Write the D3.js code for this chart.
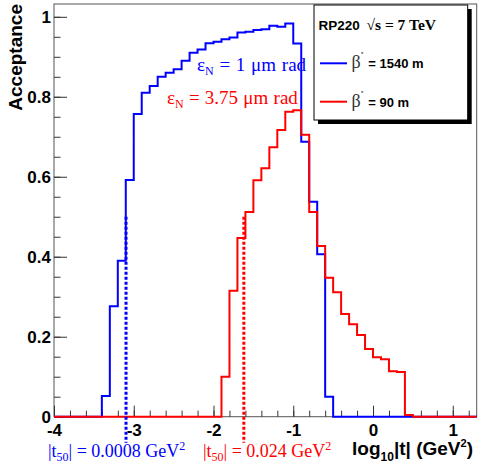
<!DOCTYPE html>
<html>
<head>
<meta charset="utf-8">
<script src="https://cdn.jsdelivr.net/npm/d3@7"></script>
<style>
  body { margin: 0; background: #fff; }
  .tick text { font-family: "Liberation Sans", Arial, sans-serif; font-weight: bold; font-size: 17px; fill: #000; }
  .tick line { stroke: #333; }
</style>
</head>
<body>
<div id="chart"></div>
<script>
var svgWidth = 479;
var svgHeight = 469;

// histogram contents, 0.1 wide bins in log10|t|
var binWidth = 0.1;
var blueStart = -3.4;
var blueValues = [0.052, 0.276, 0.39, 0.592, 0.757, 0.81, 0.827, 0.85, 0.86, 0.869,
  0.89, 0.91, 0.918, 0.934, 0.9375, 0.944, 0.948, 0.961, 0.9625, 0.967,
  0.969, 0.9775, 0.975, 0.983, 0.933, 0.6875, 0.5375, 0.406, 0.05];
var redStart = -1.9;
var redValues = [0.1, 0.315, 0.447, 0.512, 0.591, 0.621, 0.674, 0.717, 0.7625, 0.766,
  0.705, 0.512, 0.427, 0.3475, 0.311, 0.257, 0.231, 0.204, 0.169, 0.1485,
  0.1435, 0.1135, 0.112, 0.004];

// |t50| markers (GeV^2)
var t50Blue = 0.0008;
var t50Red = 0.024;

var xDomain = [-4, 1.3];
var yDomain = [0, 1.032];
var xMajor = [-4, -3, -2, -1, 0, 1];
var xMajorLabels = ["-4", "-3", "-2", "-1", "0", "1"];
var yMajor = [0, 0.2, 0.4, 0.6, 0.8, 1];
var yMajorLabels = ["0", "0.2", "0.4", "0.6", "0.8", "1"];

var frame = { left: 54, top: 4, right: 476.7, bottom: 416.7 };

var svg = d3.select("#chart")
  .append("svg")
  .attr("width", svgWidth)
  .attr("height", svgHeight);

var x = d3.scaleLinear().domain(xDomain).range([frame.left, frame.right]);
var y = d3.scaleLinear().domain(yDomain).range([frame.bottom, frame.top]);

// frame
svg.append("rect")
  .attr("x", frame.left)
  .attr("y", frame.top)
  .attr("width", frame.right - frame.left)
  .attr("height", frame.bottom - frame.top)
  .attr("fill", "none")
  .attr("stroke", "#555")
  .attr("stroke-width", 1);

// y axis, ticks point inside
var yAxis = svg.append("g")
  .attr("transform", `translate(${frame.left},0)`)
  .call(d3.axisLeft(y).tickValues(yMajor).tickSize(-13).tickPadding(3)
    .tickFormat((d, i) => yMajorLabels[i]));
yAxis.selectAll("text").attr("dy", "0.36em");
svg.append("g")
  .attr("transform", `translate(${frame.left},0)`)
  .call(d3.axisLeft(y).tickValues(d3.range(0, 1.001, 0.05)).tickSize(-6.5).tickFormat(""));

// x axis
svg.append("g")
  .attr("transform", `translate(0,${frame.bottom})`)
  .call(d3.axisBottom(x).tickValues(xMajor).tickSize(-11).tickPadding(7)
    .tickFormat((d, i) => xMajorLabels[i]));
svg.append("g")
  .attr("transform", `translate(0,${frame.bottom})`)
  .call(d3.axisBottom(x).tickValues(d3.range(-4, 1.25, 0.2)).tickSize(-6).tickFormat(""));

svg.selectAll(".domain").remove();

// step outline over the full x range
function stepPoints(start, values) {
  var pts = [[xDomain[0], 0]];
  values.forEach(function(v, i) {
    pts.push([start + i * binWidth, v]);
  });
  pts.push([start + values.length * binWidth, 0]);
  pts.push([xDomain[1], 0]);
  return pts;
}

var stepLine = d3.line()
  .x(d => x(d[0]))
  .y(d => y(d[1]))
  .curve(d3.curveStepAfter);

svg.append("path")
  .attr("d", stepLine(stepPoints(blueStart, blueValues)))
  .attr("fill", "none")
  .attr("stroke", "#0000ff")
  .attr("stroke-width", 2);

svg.append("path")
  .attr("d", stepLine(stepPoints(redStart, redValues)))
  .attr("fill", "none")
  .attr("stroke", "#ff0000")
  .attr("stroke-width", 2);

// dotted t50 lines, running below the axis
[[t50Blue, "#0000ff"], [t50Red, "#ff0000"]].forEach(function(m) {
  svg.append("line")
    .attr("x1", x(Math.log10(m[0])))
    .attr("x2", x(Math.log10(m[0])))
    .attr("y1", y(0.5))
    .attr("y2", y(0) + 26)
    .attr("stroke", m[1])
    .attr("stroke-width", 3)
    .attr("stroke-dasharray", "3,2");
});

// axis titles
svg.append("text")
  .attr("transform", "translate(22,4) rotate(-90)")
  .attr("text-anchor", "end")
  .style("font-family", "Liberation Sans, Arial, sans-serif")
  .style("font-weight", "bold")
  .style("font-size", "19px")
  .text("Acceptance");

var xTitle = svg.append("text")
  .attr("x", 473)
  .attr("y", 455)
  .attr("text-anchor", "end")
  .style("font-family", "Liberation Sans, Arial, sans-serif")
  .style("font-weight", "bold")
  .style("font-size", "19px");
xTitle.append("tspan").text("log");
xTitle.append("tspan").attr("dy", 6).style("font-size", "12px").text("10");
xTitle.append("tspan").attr("dy", -6).text("|t| (GeV");
xTitle.append("tspan").attr("dy", -8).style("font-size", "11px").text("2");
xTitle.append("tspan").attr("dy", 8).text(")");

// serif annotations
function serifLabel(px, py, size, color, parts) {
  var t = svg.append("text")
    .attr("x", px)
    .attr("y", py)
    .style("font-family", "Liberation Serif, Times New Roman, serif")
    .style("font-size", size + "px")
    .attr("fill", color);
  var shift = 0;
  parts.forEach(function(p) {
    var target = p.sub ? 4 : p.sup ? -7 : 0;
    var ts = t.append("tspan").attr("dy", target - shift).text(p.s);
    if (p.sub || p.sup) ts.style("font-size", Math.round(size * 0.65) + "px");
    shift = target;
  });
  return t;
}

serifLabel(197, 70.7, 19, "#0000ff",
  [{ s: "ε" }, { s: "N", sub: true }, { s: " = 1 μm rad" }])
  .style("word-spacing", "1px");
serifLabel(167, 104, 19, "#ff0000",
  [{ s: "ε" }, { s: "N", sub: true }, { s: " = 3.75 μm rad" }])
  .style("word-spacing", "0.5px");

serifLabel(48, 456.7, 18, "#0000ff",
  [{ s: "|t" }, { s: "50", sub: true }, { s: "| = 0.0008 GeV" }, { s: "2", sup: true }]);
serifLabel(203, 456.7, 18, "#ff0000",
  [{ s: "|t" }, { s: "50", sub: true }, { s: "| = 0.024 GeV" }, { s: "2", sup: true }]);

// legend with drop shadow
var legend = { x: 314, y: 5, w: 153.7, h: 115 };
svg.append("rect")
  .attr("x", legend.x + 4).attr("y", legend.y + 4)
  .attr("width", legend.w).attr("height", legend.h)
  .attr("fill", "#000");
svg.append("rect")
  .attr("x", legend.x).attr("y", legend.y)
  .attr("width", legend.w).attr("height", legend.h)
  .attr("fill", "#fff")
  .attr("stroke", "#000")
  .attr("stroke-width", 1);

svg.append("text")
  .attr("x", 318.5).attr("y", 30)
  .style("font-family", "Liberation Sans, Arial, sans-serif")
  .style("font-weight", "bold")
  .style("font-size", "13.5px")
  .text("RP220");
svg.append("text")
  .attr("x", 366.5).attr("y", 30)
  .style("font-family", "Liberation Serif, Times New Roman, serif")
  .style("font-weight", "bold")
  .style("font-size", "15.5px")
  .text("√s = 7 TeV");

var legendEntries = [
  { color: "#0000ff", label: "= 1540 m", ly: 63.3 },
  { color: "#ff0000", label: "= 90 m", ly: 101.7 }
];
legendEntries.forEach(function(e) {
  svg.append("line")
    .attr("x1", 320).attr("x2", 347)
    .attr("y1", e.ly).attr("y2", e.ly)
    .attr("stroke", e.color)
    .attr("stroke-width", 2);
  svg.append("text")
    .attr("x", 351.5).attr("y", e.ly + 5)
    .style("font-family", "Liberation Serif, Times New Roman, serif")
    .style("font-size", "18px")
    .attr("fill", "#333")
    .text("β");
  svg.append("text")
    .attr("x", 361).attr("y", e.ly - 7)
    .style("font-family", "Liberation Sans, Arial, sans-serif")
    .style("font-size", "6px")
    .text("*");
  svg.append("text")
    .attr("x", 368.3).attr("y", e.ly + 5)
    .style("font-family", "Liberation Sans, Arial, sans-serif")
    .style("font-weight", "bold")
    .style("font-size", "13px")
    .text(e.label);
});
</script>
</body>
</html>
